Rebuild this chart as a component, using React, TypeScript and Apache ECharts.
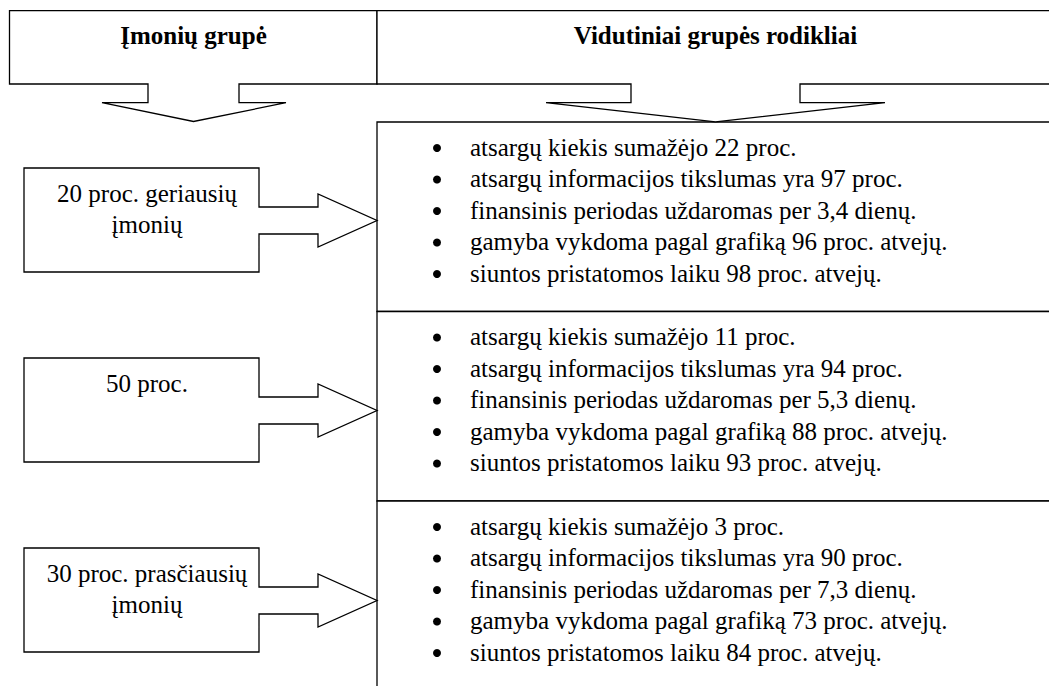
import React, { useEffect, useRef } from "react";
import * as echarts from "echarts";

// ---- content ----
const headerTitles = ["Įmonių grupė", "Vidutiniai grupės rodikliai"];
const groupLabels: string[][] = [
  ["20 proc. geriausių", "įmonių"],
  ["50 proc."],
  ["30 proc. prasčiausių", "įmonių"],
];
const inventoryReduction = [22, 11, 3];
const infoAccuracy = [97, 94, 90];
const closeDays = ["3,4", "5,3", "7,3"];
const scheduleAdherence = [96, 88, 73];
const onTimeDelivery = [98, 93, 84];

const indicatorLines = (i: number): string[] => [
  `atsargų kiekis sumažėjo ${inventoryReduction[i]} proc.`,
  `atsargų informacijos tikslumas yra ${infoAccuracy[i]} proc.`,
  `finansinis periodas uždaromas per ${closeDays[i]} dienų.`,
  `gamyba vykdoma pagal grafiką ${scheduleAdherence[i]} proc. atvejų.`,
  `siuntos pristatomos laiku ${onTimeDelivery[i]} proc. atvejų.`,
];

const FONT = "Liberation Serif";
const FS = 25;
const LW = 1.3;
const STROKE = "#000";

function buildGraphics() {
  const els: any[] = [];
  const lineStyle = { fill: "#fff", stroke: STROKE, lineWidth: LW };

  // right panels
  const panelX = 377;
  const panelTop = 122;
  const panelH = 189.5;
  groupLabels.forEach((_, i) => {
    els.push({
      type: "rect",
      shape: { x: panelX, y: panelTop + i * panelH, width: 700, height: panelH },
      style: { fill: "#fff", stroke: STROKE, lineWidth: LW },
    });
  });

  // header callouts
  els.push({
    type: "polygon",
    shape: {
      points: [
        [9.5, 10.7], [377, 10.7], [377, 84], [239, 84], [239, 102.7], [286, 102.7],
        [193.5, 121.5], [102, 102.7], [148, 102.7], [148, 84], [9.5, 84],
      ],
    },
    style: lineStyle,
  });
  els.push({
    type: "polygon",
    shape: {
      points: [
        [377, 10.7], [1070, 10.7], [1070, 84], [800, 84], [800, 102.7], [885, 102.7],
        [715.5, 121.8], [546, 102.7], [631, 102.7], [631, 84], [377, 84],
      ],
    },
    style: lineStyle,
  });
  els.push({
    type: "text",
    x: 193.5,
    y: 35.6,
    style: { text: headerTitles[0], fontSize: FS, fontWeight: "bold", fontFamily: FONT, fill: "#000", align: "center", verticalAlign: "middle" },
  });
  els.push({
    type: "text",
    x: 715.5,
    y: 35.6,
    style: { text: headerTitles[1], fontSize: FS, fontWeight: "bold", fontFamily: FONT, fill: "#000", align: "center", verticalAlign: "middle" },
  });

  // left boxes with right arrows
  groupLabels.forEach((lines, i) => {
    const o = i * 190;
    els.push({
      type: "polygon",
      shape: {
        points: [
          [24, 168 + o], [259, 168 + o], [259, 207 + o], [318, 207 + o], [318, 194 + o],
          [377, 220.5 + o], [318, 247 + o], [318, 234 + o], [259, 234 + o], [259, 272 + o], [24, 272 + o],
        ],
      },
      style: lineStyle,
    });
    lines.forEach((t, j) => {
      els.push({
        type: "text",
        x: 147,
        y: 168 + o + 33.5 - 8.4 + j * 31.5,
        style: { text: t, fontSize: FS, fontFamily: FONT, fill: "#000", align: "center", verticalAlign: "middle" },
      });
    });
  });

  // bullet lists
  groupLabels.forEach((_, i) => {
    const top = panelTop + i * panelH;
    indicatorLines(i).forEach((t, j) => {
      const by = top + 26 + j * 31.5;
      els.push({ type: "circle", shape: { cx: 437, cy: by, r: 4 }, style: { fill: "#000" } });
      els.push({
        type: "text",
        x: 470,
        y: by - 1,
        style: { text: t, fontSize: FS, fontFamily: FONT, fill: "#000", align: "left", verticalAlign: "middle" },
      });
    });
  });

  return els;
}

export default function App() {
  const ref = useRef<HTMLDivElement>(null);
  useEffect(() => {
    if (!ref.current) return;
    const chart = echarts.init(ref.current, undefined, { renderer: "svg" });
    chart.setOption({
      animation: false,
      backgroundColor: "#fff",
      graphic: { elements: buildGraphics() },
    });
    return () => chart.dispose();
  }, []);
  return (
    <div
      ref={ref}
      style={{ position: "fixed", left: 0, top: 0, width: 1049, height: 686, background: "#fff" }}
    />
  );
}
